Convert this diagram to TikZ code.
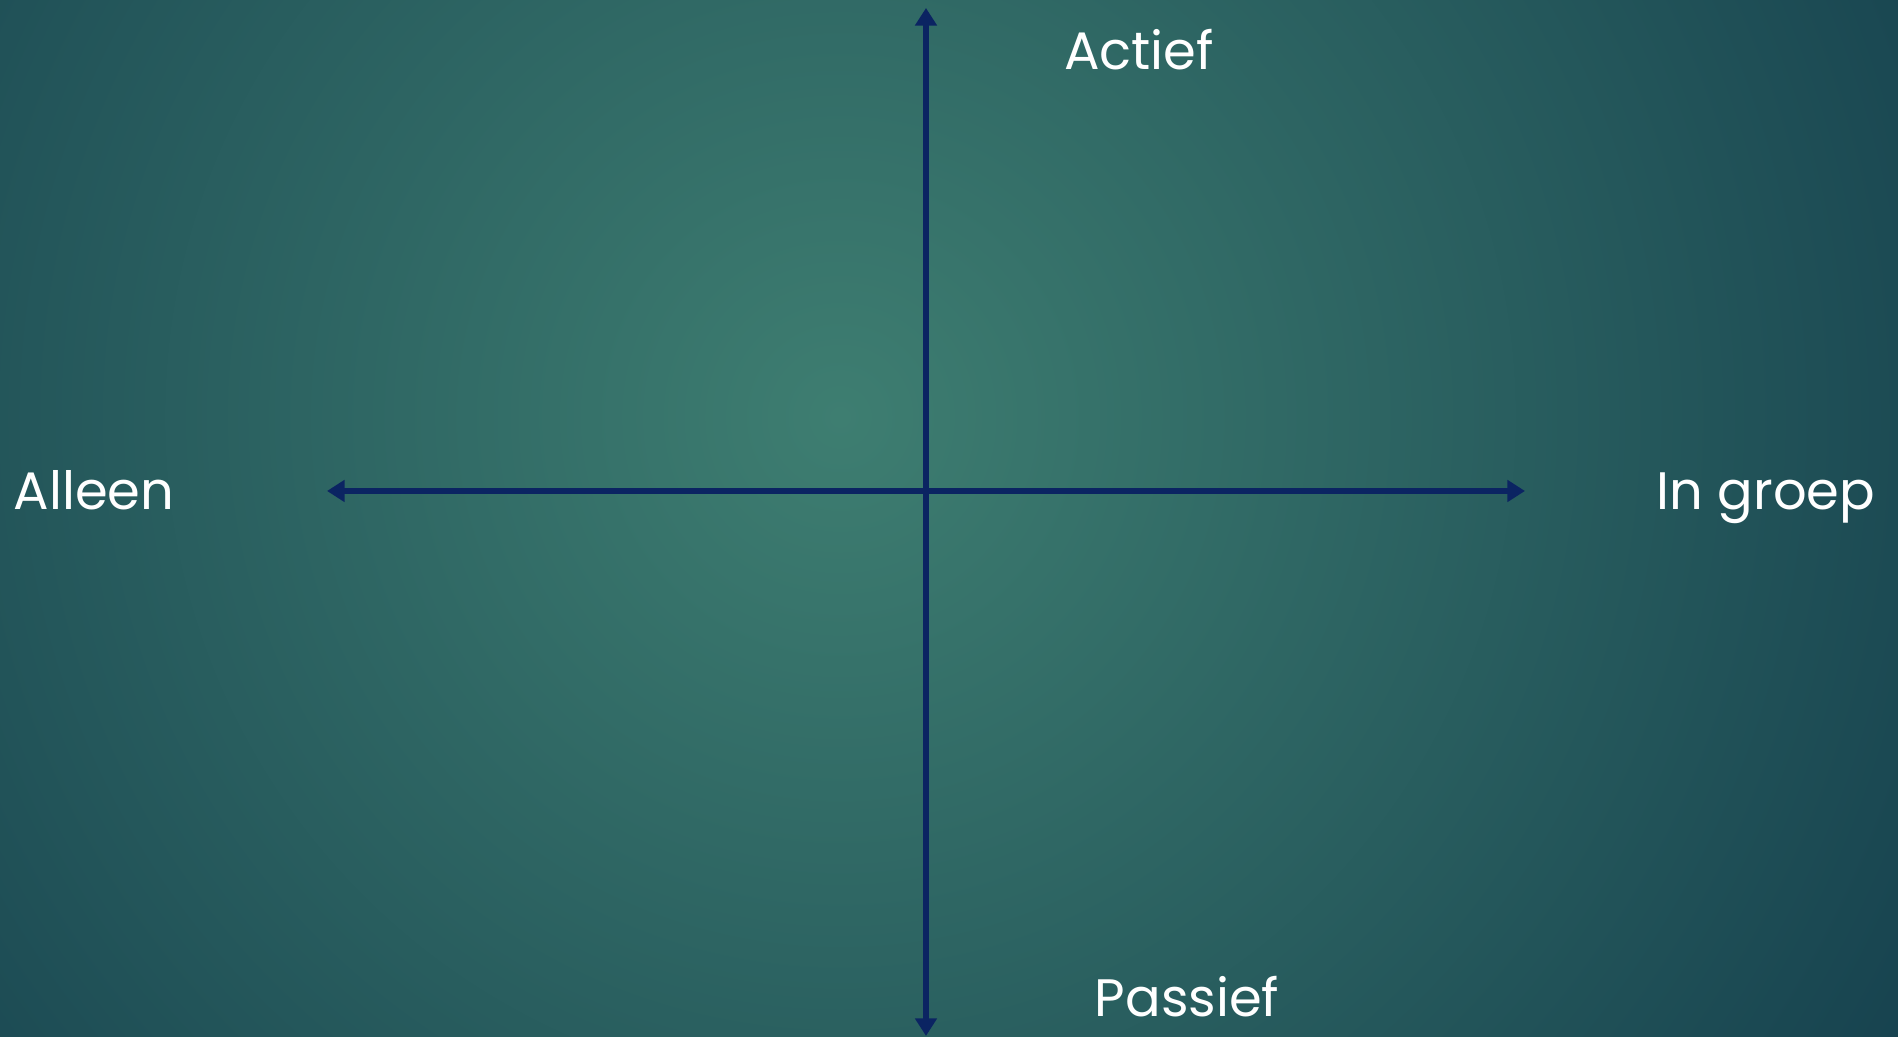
\documentclass[tikz,border=0pt]{standalone}
\usepackage{fontspec}
\setmainfont{Poppins}
\usetikzlibrary{arrows.meta,positioning,calc}
\tikzset{%
  axisline/.style={draw=axisblue,line width=1.7pt,{Triangle[length=5pt,width=6pt]}-{Triangle[length=5pt,width=6pt]}},
  axislabel/.style={text=white,font=\fontsize{15}{18}\selectfont,anchor=base,inner sep=0pt}
}

\begin{document}
\begin{tikzpicture}
% ---- colors ----
\definecolor{bgcenter}{HTML}{3E7E71}   % light centre of the board
\definecolor{bgedge}{HTML}{133D4C}     % dark corners
\definecolor{axisblue}{HTML}{0B2462}   % axis arrows

% geometry
\def\W{18.98}   % total width
\def\H{10.37}   % total height

% ===================== background =====================
\useasboundingbox (0,0) rectangle (\W,\H);
\begin{scope}
  \clip (0,0) rectangle (\W,\H);
  \fill[bgedge] (0,0) rectangle (\W,\H);
  \shade[inner color=bgcenter,outer color=bgedge] (8.4,6.2) circle (13.5);
\end{scope}

% ===================== axes =====================
\coordinate (top)    at (9.26,10.29);
\coordinate (bottom) at (9.26,0.01);
\coordinate (left)   at (3.27,5.46);
\coordinate (right)  at (15.25,5.46);

\draw[axisline] (bottom) -- (top);
\draw[axisline] (left) -- (right);

% ---- labels ----
\node[axislabel] (actief)  at (11.39,9.67) {Actief};
\node[axislabel] (passief) at (11.87,0.20) {Passief};
\node[axislabel] (alleen)  at (0.94,5.27)  {Alleen};
\node[axislabel] (groep)   at (17.66,5.27) {In groep};

\end{tikzpicture}
\end{document}
